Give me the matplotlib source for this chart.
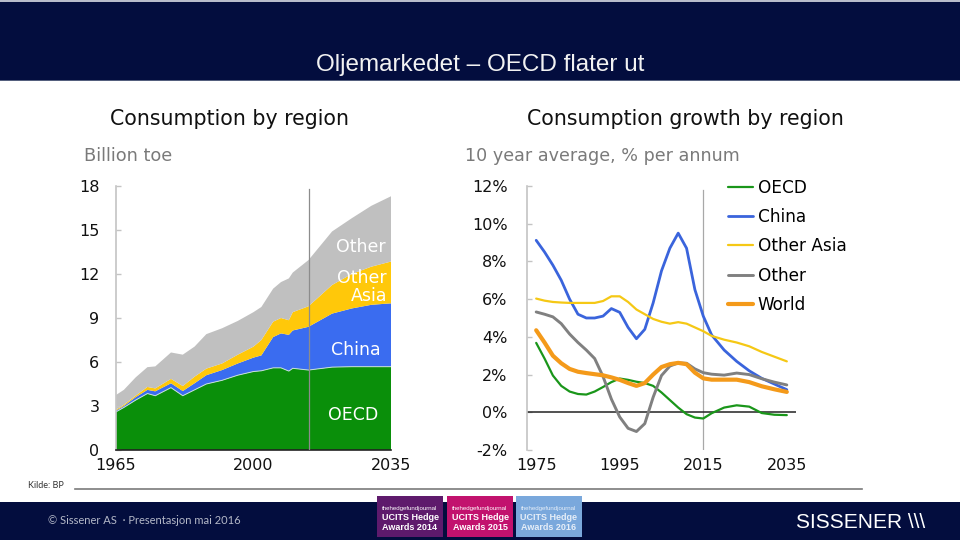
import matplotlib
matplotlib.use('Agg')
import matplotlib.pyplot as plt
from matplotlib.patches import Rectangle
from matplotlib.lines import Line2D

W, H = 960, 540
def fx(px): return px / W
def fy(py): return 1 - py / H

# ---------------- data: consumption by region (billion toe, stacked) -------------
stack_years = [1965, 1967, 1970, 1973, 1975, 1979, 1982, 1985, 1988, 1992, 1996,
               2000, 2002, 2005, 2007, 2009, 2010, 2014, 2020, 2025, 2030, 2035]
oecd_cons = [2.6, 2.9, 3.4, 3.85, 3.7, 4.25, 3.7, 4.1, 4.5, 4.75, 5.1,
             5.35, 5.4, 5.6, 5.6, 5.38, 5.57, 5.45, 5.65, 5.68, 5.68, 5.68]
china_cons = [0.08, 0.1, 0.2, 0.25, 0.3, 0.3, 0.32, 0.45, 0.6, 0.7, 0.8,
              0.95, 1.05, 2.1, 2.35, 2.47, 2.58, 2.95, 3.65, 3.97, 4.22, 4.32]
otherasia_cons = [0.07, 0.08, 0.1, 0.2, 0.2, 0.3, 0.34, 0.45, 0.45, 0.45, 0.6,
                  0.75, 1.05, 1.05, 1.05, 1.0, 1.25, 1.4, 1.95, 2.35, 2.6, 2.85]
other_cons = [1.0, 1.02, 1.25, 1.35, 1.5, 1.8, 2.14, 2.05, 2.35, 2.4, 2.3,
              2.35, 2.25, 2.25, 2.45, 2.85, 2.7, 3.15, 3.65, 3.8, 4.15, 4.45]
stack_names = ['OECD', 'China', 'Other\nAsia', 'Other']
stack_colors = ['#0a8f0a', '#3a6cf0', '#ffc80a', '#c0c0c0']
left_yticks = [0, 3, 6, 9, 12, 15, 18]
left_xticks = [1965, 2000, 2035]

# ---------------- data: consumption growth (10y avg, % p.a.) ----------------------
growth_years = [1975, 1977, 1979, 1981, 1983, 1985, 1987, 1989, 1991, 1993, 1995,
                1997, 1999, 2001, 2003, 2005, 2007, 2009, 2011, 2013, 2015, 2017,
                2020, 2023, 2026, 2029, 2032, 2035]
growth_oecd = [3.68, 2.85, 1.95, 1.4, 1.1, 0.97, 0.94, 1.1, 1.34, 1.6, 1.79,
               1.72, 1.62, 1.55, 1.4, 1.05, 0.65, 0.25, -0.1, -0.28, -0.33, -0.05,
               0.25, 0.37, 0.3, -0.04, -0.13, -0.15]
growth_china = [9.12, 8.5, 7.8, 7.0, 6.0, 5.2, 5.0, 5.0, 5.1, 5.5, 5.3,
                4.5, 3.9, 4.4, 5.8, 7.5, 8.7, 9.5, 8.7, 6.5, 5.1, 4.1,
                3.3, 2.7, 2.2, 1.8, 1.5, 1.2]
growth_otherasia = [6.03, 5.92, 5.85, 5.82, 5.8, 5.8, 5.8, 5.8, 5.9, 6.15, 6.15,
                    5.85, 5.45, 5.2, 4.95, 4.8, 4.7, 4.78, 4.7, 4.5, 4.3, 4.05,
                    3.85, 3.7, 3.5, 3.2, 2.95, 2.7]
growth_other = [5.32, 5.2, 5.06, 4.7, 4.15, 3.7, 3.3, 2.85, 1.9, 0.7, -0.25,
                -0.85, -1.02, -0.6, 0.8, 1.95, 2.45, 2.62, 2.6, 2.3, 2.1, 2.02,
                1.97, 2.08, 2.0, 1.78, 1.6, 1.45]
growth_world = [4.35, 3.7, 3.0, 2.6, 2.3, 2.15, 2.08, 2.02, 1.96, 1.85, 1.72,
                1.55, 1.4, 1.55, 2.0, 2.4, 2.55, 2.62, 2.55, 2.1, 1.8, 1.73,
                1.73, 1.73, 1.6, 1.38, 1.22, 1.08]
growth_names = ['OECD', 'China', 'Other Asia', 'Other', 'World']
growth_colors = ['#1a961a', '#3a64dc', '#f5c815', '#808080', '#f49a1a']
growth_widths = [1.6, 2.0, 1.6, 2.1, 3.0]
right_yticks = [-2, 0, 2, 4, 6, 8, 10, 12]
right_ytick_labels = ['-2%', '0%', '2%', '4%', '6%', '8%', '10%', '12%']
right_xticks = [1975, 1995, 2015, 2035]

awards = [('2014', '#5e1a6c', '#ffffff'), ('2015', '#c2126e', '#ffffff'),
          ('2016', '#7aa8dc', '#e6eef8')]

NAVY = '#030d3e'
FONT = 'DejaVu Sans'

fig = plt.figure(figsize=(9.6, 5.4), dpi=100)
fig.patch.set_facecolor('white')

# header band
fig.patches.append(Rectangle((0, fy(80)), 1, 80 / H, transform=fig.transFigure,
                             facecolor=NAVY, edgecolor='none', zorder=0))
fig.patches.append(Rectangle((0, fy(1.5)), 1, 1.5 / H, transform=fig.transFigure,
                             facecolor='#b8bccb', edgecolor='none', zorder=1))
fig.patches.append(Rectangle((0, fy(81)), 1, 1.2 / H, transform=fig.transFigure,
                             facecolor='#55607e', edgecolor='none', zorder=1))
fig.text(0.5, fy(65), 'Oljemarkedet \u2013 OECD flater ut', ha='center', va='center',
         color='#f2f2f2', fontsize=17.5,
         family=['Liberation Sans Narrow', 'Liberation Sans', 'DejaVu Sans'])

# footer band
fig.patches.append(Rectangle((0, 0), 1, 38 / H, transform=fig.transFigure,
                             facecolor=NAVY, edgecolor='none', zorder=0))
fig.text(fx(48), fy(521), '\u00a9 Sissener AS  \u00b7 Presentasjon mai 2016', ha='left',
         va='center', color='#b4b8c8', fontsize=8, family=['Lato', 'DejaVu Sans'])
fig.text(fx(925), fy(522), 'SISSENER \\\\\\', ha='right', va='center', color='white',
         fontsize=15, family=['Liberation Sans Narrow', 'Liberation Sans'])
fig.text(fx(28), fy(486), 'Kilde: BP', ha='left', va='center', color='#333333',
         fontsize=6.5, family=['Lato', 'DejaVu Sans'])
fig.lines.append(Line2D([fx(75), fx(862)], [fy(489), fy(489)], transform=fig.transFigure,
                        color='#7a7a7a', lw=1.2))

# award badges
bx = [377, 447, 516]
for (yr, fc, tc), x0 in zip(awards, bx):
    fig.patches.append(Rectangle((fx(x0), fy(537)), 66 / W, 41 / H, transform=fig.transFigure,
                                 facecolor=fc, edgecolor='none', zorder=2))
    cx = fx(x0 + 33)
    fig.text(cx, fy(508.5), 'thehedgefundjournal', ha='center', va='center', color=tc,
             fontsize=4.4, family='Liberation Sans', zorder=3)
    fig.text(cx, fy(517.5), 'UCITS Hedge', ha='center', va='center', color=tc,
             fontsize=6.5, weight='bold', family='Liberation Sans', zorder=3)
    fig.text(cx, fy(527.5), 'Awards ' + yr, ha='center', va='center', color=tc,
             fontsize=6.5, weight='bold', family='Liberation Sans', zorder=3)

# ---------------- left chart ----------------
ax1 = fig.add_axes([fx(116), fy(450), fx(391) - fx(116), 264 / H])
ax1.stackplot(stack_years, oecd_cons, china_cons, otherasia_cons, other_cons,
              colors=stack_colors, linewidth=0, zorder=1)
ax1.plot(stack_years, oecd_cons, color='#c8e0d8', lw=0.7, zorder=2)
ax1.set_xlim(1965, 2035)
ax1.set_ylim(0, 18)
ax1.axvline(2014, ymax=0.99, color='#8c8c8c', lw=0.9, zorder=3)
for s in ['top', 'right']:
    ax1.spines[s].set_visible(False)
ax1.spines['bottom'].set_color('#222222')
ax1.spines['bottom'].set_linewidth(1.2)
ax1.spines['left'].set_color('#c4c4c4')
ax1.spines['left'].set_linewidth(1.2)
ax1.set_yticks(left_yticks)
ax1.set_yticklabels([str(v) for v in left_yticks])
ax1.set_xticks(left_xticks)
ax1.set_xticklabels([str(v) for v in left_xticks])
ax1.tick_params(axis='y', direction='in', length=3.5, color='#c4c4c4', width=1,
                pad=12, labelsize=11.5, labelcolor='#111111')
ax1.tick_params(axis='x', length=0, pad=6, labelsize=11.5, labelcolor='#111111')
for lab in ax1.get_xticklabels() + ax1.get_yticklabels():
    lab.set_family(FONT)
ax1.set_facecolor('none')

lbl_kw = dict(color='white', fontsize=12.5, family=FONT, zorder=4)
ax1.text(2027.4, 13.85, stack_names[3], ha='center', va='center', **lbl_kw)
ax1.text(2034.0, 11.1, stack_names[2], ha='right', va='center', multialignment='right',
         linespacing=1.0, **lbl_kw)
ax1.text(2026.1, 6.82, stack_names[1], ha='center', va='center', **lbl_kw)
ax1.text(2025.3, 2.39, stack_names[0], ha='center', va='center', **lbl_kw)

fig.text(fx(110), fy(119), 'Consumption by region', ha='left', va='center',
         fontsize=14.8, color='#111111', family=FONT)
fig.text(fx(84), fy(156), 'Billion toe', ha='left', va='center',
         fontsize=12.8, color='#7a7a7a', family=FONT)

# ---------------- right chart ----------------
ax2 = fig.add_axes([fx(527), fy(450), fx(796) - fx(527), 264 / H])
series = [growth_oecd, growth_china, growth_otherasia, growth_other, growth_world]
handles = []
for vals, name, col, lw in zip(series, growth_names, growth_colors, growth_widths):
    ln, = ax2.plot(growth_years, vals, color=col, lw=lw, label=name,
                   solid_capstyle='round', solid_joinstyle='round', zorder=3)
    handles.append(ln)
ax2.axhline(0, color='#222222', lw=1.1, zorder=2)
ax2.axvline(2015, ymax=0.985, color='#a8a8a8', lw=0.9, zorder=1)
ax2.set_xlim(1972.8, 2037.2)
ax2.set_ylim(-2, 12)
for s in ['top', 'right', 'bottom']:
    ax2.spines[s].set_visible(False)
ax2.spines['left'].set_color('#c4c4c4')
ax2.spines['left'].set_linewidth(1.2)
ax2.set_yticks(right_yticks)
ax2.set_yticklabels(right_ytick_labels)
ax2.set_xticks(right_xticks)
ax2.set_xticklabels([str(v) for v in right_xticks])
ax2.tick_params(axis='y', direction='in', length=3.5, color='#c4c4c4', width=1,
                pad=14, labelsize=11.5, labelcolor='#111111')
ax2.tick_params(axis='x', length=0, pad=6, labelsize=11.5, labelcolor='#111111')
for lab in ax2.get_xticklabels() + ax2.get_yticklabels():
    lab.set_family(FONT)
ax2.set_facecolor('none')

leg = ax2.legend(handles=handles, loc='upper left', bbox_to_anchor=(fx(728), fy(179)),
                 bbox_transform=fig.transFigure, frameon=False, handlelength=1.5,
                 handletextpad=0.25, labelspacing=0.66, borderpad=0, borderaxespad=0,
                 prop={'family': FONT, 'size': 12.2})

fig.text(fx(527), fy(119), 'Consumption growth by region', ha='left', va='center',
         fontsize=14.8, color='#111111', family=FONT)
fig.text(fx(465), fy(156), '10 year average, % per annum', ha='left', va='center',
         fontsize=12.6, color='#7a7a7a', family=FONT)

fig.savefig('out.png', dpi=100)
